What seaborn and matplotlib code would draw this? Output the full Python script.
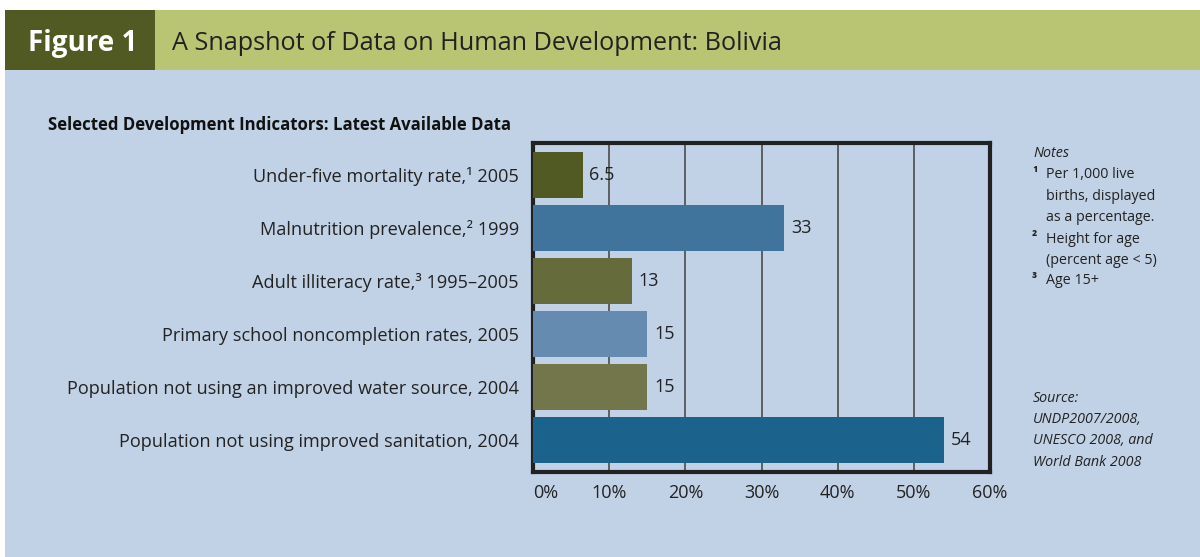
import matplotlib
matplotlib.use("Agg")
import matplotlib.pyplot as plt
import seaborn as sns
import pandas as pd
from matplotlib.patches import Rectangle

# data
indicators = [
    "Under-five mortality rate,\u00b9 2005",
    "Malnutrition prevalence,\u00b2 1999",
    "Adult illiteracy rate,\u00b3 1995\u20132005",
    "Primary school noncompletion rates, 2005",
    "Population not using an improved water source, 2004",
    "Population not using improved sanitation, 2004",
]
values = [6.5, 33, 13, 15, 15, 54]
value_labels = ["6.5", "33", "13", "15", "15", "54"]
bar_colors = ["#515a22", "#41749c", "#666b3c", "#668bb0", "#73764a", "#1b628c"]
xticks = [0, 10, 20, 30, 40, 50, 60]

df = pd.DataFrame({"indicator": indicators, "value": values})

sns.set_style("white")
plt.rcParams["font.family"] = ["Open Sans", "DejaVu Sans"]

bg = "#c1d1e6"
fig = plt.figure(figsize=(12, 5.57), dpi=100)
fig.patch.set_facecolor("white")

# header bands and panel
fig.patches.append(Rectangle((5/1200, 0), 1 - 5/1200, 1 - 70/557, transform=fig.transFigure,
                             facecolor=bg, edgecolor="none", zorder=-1))
fig.patches.append(Rectangle((155/1200, 1 - 70/557), 1 - 155/1200, 60/557, transform=fig.transFigure,
                             facecolor="#b9c572", edgecolor="none", zorder=-1))
fig.patches.append(Rectangle((5/1200, 1 - 70/557), 150/1200, 60/557, transform=fig.transFigure,
                             facecolor="#515a22", edgecolor="none", zorder=-1))
fig.text(83/1200, 1 - 43/557, "Figure 1", color="white", fontsize=20, fontweight="bold",
         ha="center", va="center")
fig.text(172/1200, 1 - 43/557, "A Snapshot of Data on Human Development: Bolivia",
         color="#222222", fontsize=18.2, ha="left", va="center")
fig.text(48/1200, 1 - 125/557, "Selected Development Indicators: Latest Available Data",
         color="#111111", fontsize=12.1, fontweight="bold", ha="left", va="center")

ax = fig.add_axes([533/1200, 1 - 472/557, 457/1200, 329/557])
ax.set_facecolor(bg)
sns.barplot(data=df, y="indicator", x="value", hue="indicator", palette=bar_colors,
            legend=False, width=0.87, saturation=1, linewidth=0, ax=ax, zorder=3)

ax.set_xlim(0, 60)
ax.set_ylim(5.6, -0.6)
ax.set_xticks(xticks)
ax.set_xticklabels([f"{t}%" for t in xticks], fontsize=13, color="#222222")
ax.get_xticklabels()[0].set_ha("left")
ax.tick_params(axis="x", length=0, pad=9)
ax.tick_params(axis="y", length=0, pad=10)
ax.set_yticks(range(len(indicators)))
ax.set_yticklabels(indicators, fontsize=13.1, color="#222222")
ax.set_xlabel("")
ax.set_ylabel("")
ax.xaxis.grid(True, color="#555555", linewidth=1.3, zorder=1)
ax.set_axisbelow(True)
for s in ax.spines.values():
    s.set_visible(True)
    s.set_color("#222222")
    s.set_linewidth(3)

for i, (v, lab) in enumerate(zip(values, value_labels)):
    ax.text(v + 0.9, i, lab, va="center", ha="left", fontsize=13, color="#222222", zorder=4)

notes_x = 1033/1200
fig.text(notes_x, 1 - 153/557, "Notes", fontsize=10.3, style="italic", color="#222222", va="center")
note_lines = [
    ("\u00b9", "Per 1,000 live", 175),
    ("", "births, displayed", 197),
    ("", "as a percentage.", 218),
    ("\u00b2", "Height for age", 239),
    ("", "(percent age < 5)", 260),
    ("\u00b3", "Age 15+", 281),
]
for sup, txt, y in note_lines:
    if sup:
        fig.text(1032/1200, 1 - (y - 3)/557, sup, fontsize=10, fontweight="bold",
                 color="#222222", va="center")
    fig.text(1046/1200, 1 - y/557, txt, fontsize=10.3, color="#222222", va="center")

source_lines = ["Source:", "UNDP2007/2008,", "UNESCO 2008, and", "World Bank 2008"]
for k, line in enumerate(source_lines):
    fig.text(notes_x, 1 - (398 + k * 21.5)/557, line, fontsize=10.3, style="italic",
             color="#222222", va="center")

fig.savefig("out.png", dpi=100, facecolor=fig.get_facecolor())
